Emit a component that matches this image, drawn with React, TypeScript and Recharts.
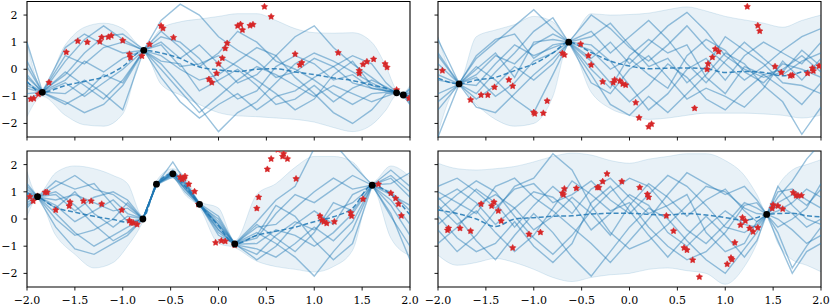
import React from 'react';
import { ComposedChart, Area, Line, Scatter, XAxis, YAxis, ReferenceArea } from 'recharts';

// ---------- shared ticks ----------
const xTicks = [-2, -1.5, -1, -0.5, 0, 0.5, 1, 1.5, 2];
const yTicks = [-2, -1, 0, 1, 2];

// ---------- panel 1 (top-left) ----------
const p1Grid = [-2.0, -1.84, -1.6, -1.4, -1.2, -1.0, -0.78, -0.6, -0.4, -0.2, 0.0, 0.2, 0.4, 0.6, 0.8, 1.0, 1.2, 1.4, 1.6, 1.75, 1.86, 1.93, 2.0];
const p1Mean = [-0.45, -0.85, -0.6, -0.45, -0.28, 0.1, 0.7, 0.6, 0.4, 0.08, -0.02, -0.08, 0.0, 0.02, -0.1, -0.2, -0.32, -0.42, -0.58, -0.7, -0.86, -0.95, -0.97];
const p1High = [1.0, -0.7, 0.9, 1.55, 1.7, 1.5, 0.8, 1.5, 1.75, 1.85, 1.95, 2.05, 2.05, 1.8, 1.5, 1.35, 1.33, 1.35, 1.0, 0.1, -0.75, -0.85, -0.6];
const p1Low = [-1.75, -1.0, -1.7, -2.05, -2.1, -1.65, 0.6, -0.55, -0.95, -1.3, -1.6, -1.72, -1.75, -1.8, -1.85, -1.95, -2.15, -2.3, -2.05, -1.5, -0.97, -1.05, -1.3];
const p1Samples = [
  [1.0, -0.82, -0.2, 0.6, 1.2, 1.3, 0.72, 1.8, 2.4, 2.0, 1.2, 0.7, 0.3, -0.3, -0.1, 0.4, 0.1, -0.5, -0.7, -0.8, -0.86, -0.94, -0.85],
  [-0.2, -0.86, 0.3, 1.1, 1.6, 1.1, 0.68, 0.2, -0.6, -1.4, -2.3, -1.6, -1.2, -0.5, 0.2, 0.6, 0.3, -0.1, -0.5, -0.75, -0.87, -0.96, -1.1],
  [-0.5, -0.84, -0.9, -0.4, -0.9, -1.5, 0.71, 1.0, 0.4, 0.9, 0.2, -0.5, -0.2, 0.5, 1.2, 1.6, 0.8, 0.2, -0.3, -0.7, -0.85, -0.93, -0.7],
  [-0.9, -0.85, -1.2, -1.6, -1.3, -0.6, 0.69, 0.5, 0.0, -0.4, -0.2, 0.3, 0.8, 0.5, -0.3, -0.9, -1.6, -2.0, -1.5, -0.9, -0.88, -0.95, -1.2],
  [-0.3, -0.83, -0.4, 0.3, -0.1, 0.4, 0.7, 0.0, -0.8, -1.6, -1.0, -0.4, 0.1, -0.2, -0.6, -1.0, -0.6, -0.9, -1.2, -1.0, -0.86, -0.97, -1.0],
  [-0.7, -0.87, -0.5, -1.0, -0.5, 0.0, 0.7, 1.2, 1.0, 0.4, -0.5, -1.1, -0.8, 0.1, 0.5, 0.2, -0.4, -0.2, -0.7, -0.8, -0.87, -0.95, -0.75],
  [0.3, -0.84, 0.8, 1.3, 0.9, 0.6, 0.7, -0.3, -1.2, -1.8, -1.3, -0.9, -1.5, -1.0, -0.8, -0.3, 0.1, 0.5, 0.2, -0.5, -0.85, -0.95, -1.05],
  [-1.1, -0.86, -1.3, -0.9, -0.2, -0.5, 0.72, 1.4, 0.8, 0.1, 0.6, 1.4, 1.0, 0.3, 0.0, -0.4, -0.9, -1.3, -0.9, -0.85, -0.87, -0.96, -1.15],
  [-0.6, -0.85, -0.1, -0.6, -1.1, -0.4, 0.69, 0.3, 0.2, -0.8, -0.4, 0.0, -0.6, -1.3, -1.1, -0.6, -1.2, -0.7, -0.4, -0.65, -0.86, -0.94, -0.9],
  [0.1, -0.84, 0.5, 0.2, 0.8, 1.0, 0.71, 0.9, 0.1, 0.2, 0.5, 0.1, -0.4, -0.9, -1.5, -1.1, -0.2, 0.3, -0.6, -0.8, -0.85, -0.96, -1.3],
];
const p1Stars = [
  [-1.96, -1.1], [-1.93, -1.08], [-1.88, -0.92], [-1.77, -0.49], [-1.59, 0.63], [-1.47, 1.04], [-1.37, 1.0],
  [-1.24, 1.02], [-1.22, 1.18], [-1.15, 1.19], [-1.12, 1.24], [-1.0, 1.06], [-0.93, 0.56], [-0.92, 0.44],
  [-0.8, 0.49], [-0.72, 0.92], [-0.6, 1.6], [-0.58, 1.51], [-0.47, 1.17], [-0.1, -0.37], [-0.07, -0.49],
  [-0.02, -0.15], [0.0, 0.2], [0.04, 0.41], [0.07, 0.77], [0.09, 0.96], [0.2, 1.6], [0.23, 1.66], [0.25, 1.45],
  [0.33, 1.61], [0.36, 1.65], [0.48, 2.31], [0.55, 1.94], [0.8, 0.56], [0.85, 0.16], [0.87, 0.24], [1.25, 0.61],
  [1.47, -0.05], [1.47, -0.15], [1.51, 0.18], [1.55, 0.28], [1.62, 0.37], [1.74, 0.2], [1.76, 0.07],
  [1.86, -0.76], [1.99, -1.07],
];
const p1Context = [[-1.84, -0.85], [-0.78, 0.7], [1.86, -0.87], [1.93, -0.95]];

// ---------- panel 2 (top-right) ----------
const p2Grid = [-2.0, -1.78, -1.6, -1.4, -1.2, -1.0, -0.8, -0.635, -0.4, -0.2, 0.0, 0.2, 0.4, 0.6, 0.8, 1.0, 1.2, 1.4, 1.6, 1.8, 2.0];
const p2Mean = [-0.33, -0.54, -0.4, -0.3, -0.05, 0.2, 0.6, 1.0, 0.62, 0.3, 0.12, 0.02, 0.04, 0.05, 0.02, -0.12, -0.08, -0.12, -0.24, -0.1, 0.1];
const p2High = [1.2, -0.45, 1.2, 1.45, 1.65, 1.95, 1.75, 1.1, 2.05, 2.0, 2.02, 2.07, 2.2, 2.3, 2.15, 1.95, 1.82, 1.7, 1.55, 1.8, 2.0];
const p2Low = [-2.35, -0.63, -1.3, -1.85, -2.1, -2.0, -1.0, 0.9, -0.85, -1.45, -1.7, -1.85, -1.8, -1.7, -1.62, -1.62, -1.62, -1.65, -1.7, -1.8, -1.69];
const p2Samples = [
  [1.1, -0.52, 0.4, 1.0, 1.6, 2.2, 1.5, 1.0, 2.0, 1.5, 0.8, 0.3, 0.9, 1.6, 0.8, 0.2, -0.4, 0.1, 0.7, 1.2, 1.5],
  [-2.5, -0.55, -1.4, -1.6, -0.9, -0.2, 0.4, 0.98, 0.3, -0.5, -1.2, -0.6, 0.2, -0.3, -1.1, -1.5, -0.8, -0.2, -0.7, -1.3, -0.5],
  [0.2, -0.53, -0.2, 0.5, 0.2, 0.9, 1.3, 1.02, 1.4, 0.6, 1.2, 1.8, 1.1, 0.2, -0.5, 0.3, 1.0, 0.4, -0.2, 0.3, 0.6],
  [-0.9, -0.56, -1.1, -0.6, 0.1, -0.4, 0.2, 0.99, -0.2, -1.3, -1.7, -1.0, -1.6, -0.9, -0.2, 0.6, 0.2, -0.6, -1.2, -2.4, -1.4],
  [-0.4, -0.54, 0.1, -0.4, -1.1, -1.6, -0.2, 1.0, 0.7, 0.0, 0.4, -0.2, -0.7, 0.5, 1.1, 0.7, -0.1, -0.5, 0.2, 0.0, -0.3],
  [0.6, -0.52, -0.6, 0.2, 0.9, 0.5, 0.8, 1.01, 0.4, 1.0, 0.2, 0.9, 1.6, 2.1, 1.4, 0.5, 0.0, -0.3, -0.1, 0.7, 0.1],
  [-1.5, -0.55, -0.9, -0.1, 0.6, 1.4, 1.9, 0.99, -0.5, -0.9, 0.0, 0.5, -0.3, -1.1, -0.7, -1.0, -1.4, -0.7, 0.3, -0.4, 0.4],
  [-0.2, -0.54, 0.5, 1.1, 1.3, 0.4, 0.9, 1.0, 0.9, 0.3, -0.6, -1.5, -0.9, 0.0, 0.4, -0.4, 0.5, 1.0, 0.6, 0.2, 1.0],
  [0.5, -0.53, -0.3, -1.0, -0.5, 0.3, 0.6, 1.0, 1.2, 1.7, 0.9, 0.1, 0.4, -0.5, 0.1, 1.2, 0.7, 0.2, -0.5, -0.6, -0.9],
  [-1.2, -0.55, 0.0, 0.6, -0.3, 1.0, 1.1, 1.0, 0.0, -0.7, 0.5, 1.1, 0.6, 0.9, -0.3, -0.9, 0.1, -0.2, 0.0, 0.5, -0.1],
];
const p2Stars = [
  [-1.954, -0.05], [-1.66, -1.13], [-1.55, -0.95], [-1.48, -0.95], [-1.41, -0.66], [-1.26, -0.39], [-1.22, -0.62],
  [-1.0, -1.59], [-0.99, -1.64], [-0.9, -1.62], [-0.86, -1.17], [-0.7, 0.59], [-0.68, 0.53], [-0.51, 0.93],
  [-0.43, 0.5], [-0.4, 0.16], [-0.28, -0.46], [-0.17, -0.49], [-0.155, -0.39], [-0.1, -0.43], [-0.07, -0.54],
  [-0.04, -0.58], [0.065, -1.23], [0.1, -1.79], [0.2, -2.12], [0.23, -2.02], [0.68, -1.44], [0.81, 0.0],
  [0.82, 0.2], [0.866, 0.44], [0.897, 0.75], [0.93, 0.65], [1.23, 2.31], [1.34, 1.61], [1.36, 1.41],
  [1.52, 0.1], [1.586, -0.12], [1.68, -0.24], [1.7, -0.22], [1.86, -0.15], [1.91, 0.04], [1.92, -0.06], [1.98, 0.12],
];
const p2Context = [[-1.78, -0.54], [-0.635, 1.0]];

// ---------- panel 3 (bottom-left) ----------
const p3Grid = [-2.0, -1.89, -1.7, -1.5, -1.3, -1.1, -0.95, -0.79, -0.648, -0.477, -0.35, -0.198, 0.0, 0.17, 0.4, 0.6, 0.8, 1.0, 1.2, 1.4, 1.605, 1.8, 2.0];
const p3Mean = [0.95, 0.82, 0.42, 0.25, 0.1, -0.02, -0.12, 0.0, 1.28, 1.66, 1.2, 0.54, -0.25, -0.92, -0.6, -0.45, -0.3, -0.1, 0.08, 0.4, 1.24, 0.9, 0.15];
const p3High = [1.75, 0.9, 1.7, 1.95, 1.85, 1.6, 1.3, 0.1, 1.4, 1.85, 1.55, 0.65, 0.4, -0.8, 0.9, 1.3, 1.9, 2.3, 2.3, 2.1, 1.35, 1.95, 1.55];
const p3Low = [0.1, 0.74, -0.6, -1.3, -1.8, -1.6, -1.0, -0.1, 1.15, 1.5, 0.9, 0.42, -0.9, -1.05, -1.55, -1.75, -1.85, -1.95, -1.75, -1.15, 1.13, -0.7, -1.35];
const p3Samples = [
  [1.1, 0.8, 1.2, 1.6, 1.1, 0.9, 0.5, 0.02, 1.3, 1.8, 1.3, 0.55, -0.2, -0.9, -0.1, 0.7, 1.2, 2.6, 2.8, 2.0, 1.25, 1.5, 0.8],
  [0.6, 0.83, 0.2, -0.5, -1.0, -0.6, -0.3, -0.02, 1.25, 1.7, 1.1, 0.52, -0.4, -0.95, -1.3, -0.6, -0.1, -0.4, 0.3, 0.6, 1.22, 0.7, -0.2],
  [0.9, 0.81, 0.7, 0.9, 0.6, 0.3, 0.4, 0.0, 1.3, 1.65, 1.25, 0.56, -0.1, -0.9, -0.5, -0.9, -1.4, -2.1, -1.2, -0.4, 1.24, 0.2, -1.5],
  [1.3, 0.82, 1.0, 0.5, -0.2, -0.8, -0.5, -0.01, 1.27, 2.1, 1.4, 0.54, -0.6, -0.92, -0.7, 0.2, 0.9, 0.6, 1.1, 1.6, 1.24, 1.8, 1.2],
  [0.4, 0.83, 0.5, -0.1, 0.3, 0.7, 0.2, 0.02, 1.29, 1.6, 1.0, 0.5, 0.0, -0.94, -1.1, -1.4, -0.9, -0.3, -0.8, -0.1, 1.23, 1.0, 0.3],
  [1.0, 0.81, 1.4, 1.1, 1.3, 0.5, -0.1, 0.0, 1.28, 1.7, 1.3, 0.55, -0.3, -0.91, -0.3, -0.2, 0.4, 1.0, 1.5, 1.1, 1.25, 1.3, 1.7],
  [0.8, 0.82, 0.0, -0.6, -0.4, 0.0, 0.6, -0.02, 1.26, 1.55, 1.15, 0.53, -0.5, -0.93, -0.9, -0.4, -0.6, -1.0, -0.5, 0.2, 1.24, 0.5, -0.6],
  [1.2, 0.82, 0.9, 0.3, 0.8, 1.0, 0.7, 0.01, 1.3, 1.75, 1.35, 0.57, 0.1, -0.92, -0.6, 0.5, 0.1, -0.8, -1.5, -0.9, 1.23, 0.9, 0.5],
  [0.5, 0.81, -0.3, -1.1, -1.3, -0.9, -0.6, 0.0, 1.27, 1.62, 1.2, 0.52, -0.2, -0.91, -1.5, -1.0, -0.2, 0.3, -0.2, 0.9, 1.24, 1.6, 1.0],
  [0.7, 0.83, 0.4, 1.0, 0.2, -0.3, 0.1, 0.01, 1.29, 1.68, 1.1, 0.54, -0.4, -0.93, -0.2, -0.7, -1.2, -0.5, 0.6, 0.3, 1.25, 0.1, -1.0],
];
const p3Stars = [
  [-1.97, 0.82], [-1.935, 0.66], [-1.89, 0.84], [-1.81, 0.98], [-1.79, 0.98], [-1.7, 0.33], [-1.56, 0.48],
  [-1.55, 0.62], [-1.41, 0.66], [-1.33, 0.66], [-1.22, 0.55], [-1.01, 0.33], [-0.93, -0.06], [-0.91, -0.14],
  [-0.89, -0.14], [-0.85, -0.2], [-0.4, 1.54], [-0.38, 1.46], [-0.36, 1.5], [-0.35, 1.57], [-0.31, 1.28],
  [-0.25, 1.01], [-0.21, 0.54], [-0.03, -0.87], [0.03, -0.8], [0.07, -0.82], [0.17, -0.96], [0.4, 0.39],
  [0.42, 0.8], [0.51, 1.83], [0.55, 2.21], [0.62, 2.55], [0.67, 2.3], [0.68, 2.4], [0.72, 2.21], [0.81, 1.48],
  [1.06, 0.11], [1.08, -0.04], [1.1, -0.1], [1.13, -0.16], [1.21, -0.1], [1.38, 0.23], [1.39, 0.11],
  [1.51, 0.73], [1.67, 1.28], [1.8, 0.95], [1.85, 0.76], [1.88, 0.55], [1.91, 0.12],
];
const p3Context = [[-1.89, 0.82], [-0.79, 0.0], [-0.648, 1.28], [-0.477, 1.66], [-0.198, 0.54], [0.17, -0.92], [1.605, 1.24]];

// ---------- panel 4 (bottom-right) ----------
const p4Grid = [-2.0, -1.8, -1.6, -1.4, -1.2, -1.0, -0.8, -0.6, -0.4, -0.2, 0.0, 0.2, 0.4, 0.6, 0.8, 1.0, 1.2, 1.33, 1.433, 1.55, 1.7, 1.85, 2.0];
const p4Mean = [0.33, 0.2, 0.0, -0.28, 0.0, 0.05, 0.1, 0.12, 0.18, 0.21, 0.21, 0.17, 0.15, 0.2, 0.15, 0.05, -0.04, 0.05, 0.17, 0.2, 0.21, 0.12, 0.085];
const p4High = [2.05, 1.85, 1.8, 1.85, 1.93, 2.1, 2.3, 2.42, 2.35, 2.15, 2.05, 2.2, 2.3, 2.4, 2.4, 2.15, 1.6, 0.9, 0.25, 1.2, 1.8, 2.0, 2.18];
const p4Low = [-1.33, -1.7, -1.6, -1.45, -1.6, -1.85, -2.15, -2.3, -2.15, -2.05, -2.0, -1.85, -1.8, -1.9, -2.0, -2.4, -1.75, -0.9, 0.1, -0.9, -1.5, -1.7, -1.94];
const p4Samples = [
  [1.2, 1.5, 1.0, 0.4, 1.1, 1.3, 0.6, 0.9, 1.4, 0.7, 0.2, 0.9, 1.6, 1.2, 0.5, -0.3, -0.5, -0.2, 0.16, 0.8, 1.4, 2.2, 2.8],
  [-0.4, -1.2, -0.6, 0.3, 1.2, 1.5, 2.4, 1.8, 0.5, -0.5, -1.1, -0.8, -0.2, 0.5, 1.2, 1.0, 0.4, 0.2, 0.17, -0.5, -1.8, -1.0, -0.3],
  [0.8, 0.1, -0.8, -1.5, -0.6, 0.2, -0.5, -1.4, -2.1, -1.2, -0.3, 0.4, 0.0, -0.8, -1.5, -2.0, -1.1, -0.5, 0.15, 0.6, 0.9, 0.5, 1.1],
  [0.3, 0.9, 1.4, 1.0, 0.1, -0.7, -1.3, -0.6, 0.3, 1.0, 1.5, 1.2, 0.4, -0.4, -0.9, -0.2, 0.6, 0.4, 0.18, 0.0, -0.4, -0.9, -0.6],
  [-0.9, -0.3, 0.5, 0.9, 0.4, -0.4, 0.1, 0.8, 0.2, -0.6, 0.5, 1.3, 0.8, 0.1, 0.7, 1.1, 0.3, -0.1, 0.17, 0.5, 0.2, -0.3, 0.0],
  [0.5, -0.2, 0.3, -0.5, -1.2, -0.6, 0.4, 1.4, 0.9, 0.3, 0.6, -0.3, -1.0, -1.5, -1.2, -0.5, 0.5, 0.6, 0.16, -0.8, -2.0, -1.2, -0.9],
  [1.0, 0.6, 0.2, 1.2, 1.5, 0.8, 0.3, -0.3, -0.9, -1.6, -0.8, 0.0, 0.9, 1.7, 1.3, 0.9, 1.2, 0.7, 0.17, 1.0, 1.1, 0.7, 0.4],
  [-0.2, 0.4, 1.1, 0.6, -0.3, 0.5, 1.2, 0.6, -0.4, 0.2, 0.9, 0.5, -0.5, -1.0, -0.3, 0.3, -0.2, -0.3, 0.15, 0.3, 0.6, 1.1, 0.8],
  [0.1, -0.7, -1.2, -0.9, -0.1, -1.0, -1.6, -0.9, 0.6, 1.2, 0.3, -0.6, -1.4, -0.6, 0.1, -0.6, -1.4, -0.8, 0.17, 1.2, 0.5, 0.0, -0.2],
  [0.7, 1.1, 0.6, -0.2, 0.4, 1.0, 0.8, 0.2, 1.1, 1.5, 0.8, 0.2, 0.5, 0.9, -0.5, -1.2, -0.9, -0.1, 0.16, -0.3, 0.0, 0.4, 1.3],
];
const p4Stars = [
  [-1.9, -0.41], [-1.89, -0.34], [-1.77, -0.34], [-1.66, -0.44], [-1.55, 0.55], [-1.44, 0.48], [-1.415, 0.62],
  [-1.37, 0.3], [-1.34, -0.07], [-1.22, -1.06], [-1.05, -0.56], [-0.93, -0.49], [-0.7, 0.95], [-0.69, 0.89],
  [-0.68, 1.11], [-0.555, 1.13], [-0.335, 1.16], [-0.32, 1.16], [-0.28, 1.38], [-0.235, 1.66], [-0.08, 1.38],
  [0.107, 1.16], [0.187, 0.91], [0.2, 0.8], [0.385, 0.12], [0.46, -0.44], [0.57, -1.06], [0.6, -1.14],
  [0.66, -1.51], [0.73, -2.13], [1.02, -1.66], [1.06, -1.43], [1.07, -1.49], [1.1, -0.87], [1.16, -0.22],
  [1.18, 0.05], [1.21, -0.07], [1.255, -0.34], [1.29, -0.47], [1.34, -0.32], [1.49, 0.39], [1.5, 0.52],
  [1.55, 0.48], [1.6, 0.37], [1.71, 0.97], [1.74, 0.86], [1.76, 0.86], [1.795, 0.86],
];
const p4Context = [[1.433, 0.17]];

// ---------- styling helpers ----------
const BLUE = '#1f77b4';
const RED = '#d62728';
const FONT = 'DejaVu Serif';

const fmtX = (v: number) => (v < 0 ? '\u2212' : '') + Math.abs(v).toFixed(1);
const fmtY = (v: number) => (v < 0 ? '\u2212' : '') + Math.abs(v).toFixed(0);

const starPath = (cx: number, cy: number) => {
  const R = 3.3;
  const r = 1.75;
  let d = '';
  for (let i = 0; i < 10; i++) {
    const a = -Math.PI / 2 + (i * Math.PI) / 5;
    const rad = i % 2 === 0 ? R : r;
    d += (i === 0 ? 'M' : 'L') + (cx + rad * Math.cos(a)).toFixed(2) + ',' + (cy + rad * Math.sin(a)).toFixed(2);
  }
  return d + 'Z';
};

const StarShape = (p: any) => {
  if (p.cx == null || p.cy == null) return <g />;
  return <path d={starPath(p.cx, p.cy)} fill={RED} stroke={RED} strokeWidth={0.6} strokeLinejoin="round" />;
};
const DotShape = (p: any) => {
  if (p.cx == null || p.cy == null) return <g />;
  return <circle cx={p.cx} cy={p.cy} r={3.4} fill="#000" />;
};
const NoTick = () => <g />;

type PanelProps = {
  left: number; top: number; height: number; marginTop: number; xAxisHeight: number;
  showX: boolean; showY: boolean;
  grid: number[]; mean: number[]; low: number[]; high: number[];
  samples: number[][]; stars: number[][]; context: number[][];
};

function Panel(props: PanelProps) {
  const { left, top, height, marginTop, xAxisHeight, showX, showY, grid, mean, low, high, samples, stars, context } = props;
  const rows = grid.map((x, j) => {
    const r: any = { x, mean: mean[j], band: [low[j], high[j]] };
    samples.forEach((s, k) => { r['s' + k] = s[j]; });
    return r;
  });
  const starData = stars.map(([x, y]) => ({ x, y }));
  const ctxData = context.map(([x, y]) => ({ x, y }));
  const tickStyle = { fontSize: 11, fontFamily: FONT, fill: '#000' };
  return (
    <div style={{ position: 'absolute', left, top }}>
      <ComposedChart width={420} height={height} data={rows} margin={{ top: marginTop, right: 10, bottom: 0, left: 0 }}>
        <XAxis
          dataKey="x" type="number" domain={[-2, 2]} ticks={xTicks} allowDataOverflow interval={0}
          axisLine={false} tickLine={{ stroke: '#000', strokeWidth: 0.9 }} tickSize={3.5} tickMargin={6}
          height={xAxisHeight} tick={showX ? tickStyle : NoTick} tickFormatter={fmtX}
        />
        <YAxis
          type="number" domain={[-2.5, 2.5]} ticks={yTicks} allowDataOverflow interval={0} width={27}
          axisLine={false} tickLine={{ stroke: '#000', strokeWidth: 0.9 }} tickSize={3.5} tickMargin={6}
          tick={showY ? tickStyle : NoTick} tickFormatter={fmtY}
        />
        <Area
          dataKey="band" type="monotone" fill={BLUE} fillOpacity={0.1} stroke={BLUE} strokeOpacity={0.14}
          strokeWidth={1} isAnimationActive={false} dot={false} activeDot={false}
        />
        {samples.map((_, k) => (
          <Line
            key={k} dataKey={'s' + k} type="linear" stroke={BLUE} strokeOpacity={0.45} strokeWidth={1.4}
            dot={false} activeDot={false} isAnimationActive={false}
          />
        ))}
        <Line
          dataKey="mean" type="monotone" stroke={BLUE} strokeOpacity={0.85} strokeWidth={1.5}
          strokeDasharray="5 2.5" dot={false} activeDot={false} isAnimationActive={false}
        />
        <Scatter data={starData} dataKey="y" shape={StarShape} isAnimationActive={false} />
        <Scatter data={ctxData} dataKey="y" shape={DotShape} isAnimationActive={false} />
        <ReferenceArea x1={-2} x2={2} y1={-2.5} y2={2.5} fill="none" stroke="#000" strokeWidth={1.1} ifOverflow="visible" />
      </ComposedChart>
    </div>
  );
}

export default function App() {
  return (
    <div style={{ position: 'absolute', left: 0, top: 0, width: 831, height: 308, background: '#fff' }}>
      <Panel left={411} top={0} height={145} marginTop={1.5} xAxisHeight={8} showX={false} showY={false}
        grid={p2Grid} mean={p2Mean} low={p2Low} high={p2High} samples={p2Samples} stars={p2Stars} context={p2Context} />
      <Panel left={411} top={145} height={162} marginTop={6} xAxisHeight={20} showX={true} showY={false}
        grid={p4Grid} mean={p4Mean} low={p4Low} high={p4High} samples={p4Samples} stars={p4Stars} context={p4Context} />
      <Panel left={0} top={0} height={145} marginTop={1.5} xAxisHeight={8} showX={false} showY={true}
        grid={p1Grid} mean={p1Mean} low={p1Low} high={p1High} samples={p1Samples} stars={p1Stars} context={p1Context} />
      <Panel left={0} top={145} height={162} marginTop={6} xAxisHeight={20} showX={true} showY={true}
        grid={p3Grid} mean={p3Mean} low={p3Low} high={p3High} samples={p3Samples} stars={p3Stars} context={p3Context} />
    </div>
  );
}
